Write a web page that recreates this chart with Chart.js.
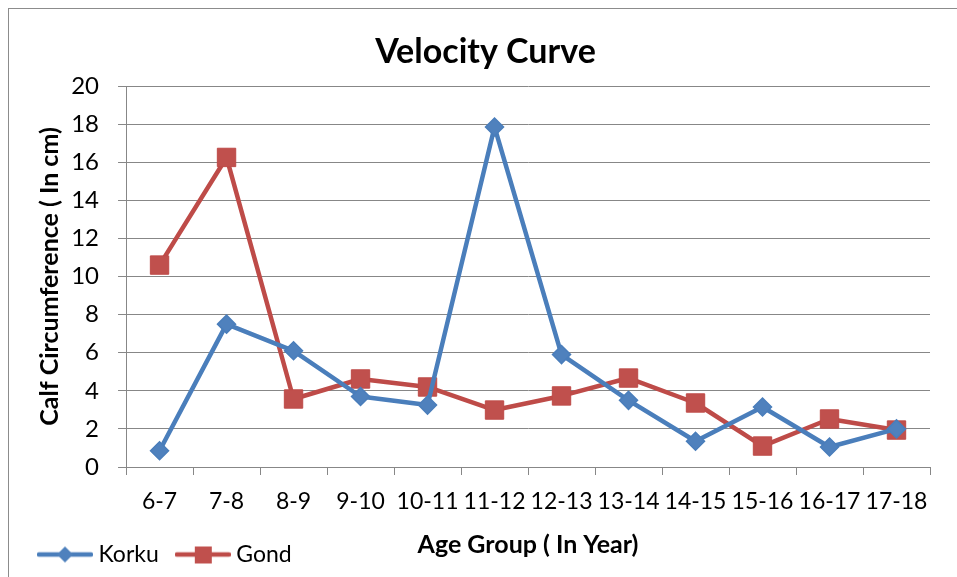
<!DOCTYPE html>
<html>
<head>
<meta charset="utf-8">
<script src="https://cdn.jsdelivr.net/npm/chart.js@4.4.1/dist/chart.umd.min.js"></script>
<style>
  body { margin: 0; background: #fff; overflow: hidden; }
  #wrap { position: relative; width: 957px; height: 577px; }
  #frame { position: absolute; left: 8px; top: 8px; width: 2000px; height: 2000px;
           border: 1px solid #8c8c8c; pointer-events: none; }
</style>
</head>
<body>
<div id="wrap">
  <canvas id="chart" width="957" height="577"></canvas>
  <div id="frame"></div>
</div>
<script>
// Age groups (x axis)
const ageGroups = ['6-7', '7-8', '8-9', '9-10', '10-11', '11-12', '12-13', '13-14', '14-15', '15-16', '16-17', '17-18'];

// Velocity values, calf circumference (cm)
const korku = [0.85, 7.5, 6.1, 3.7, 3.25, 17.85, 5.9, 3.5, 1.35, 3.15, 1.05, 2.0];
const gond  = [10.6, 16.25, 3.57, 4.62, 4.2, 2.99, 3.73, 4.67, 3.36, 1.1, 2.52, 1.94];

const blueLine = '#4A7EBB', blueFill = '#4F81BD';
const redLine = '#BE4B48', redFill = '#C0504D';
const gridColor = '#878787';

// small legend icons: line with marker in the middle
function legendIcon(lineColor, fillColor, shape) {
    const c = document.createElement('canvas');
    c.width = 56; c.height = 22;
    const g = c.getContext('2d');
    g.strokeStyle = lineColor;
    g.lineWidth = 4.5;
    g.lineCap = 'round';
    g.beginPath();
    g.moveTo(2, 11); g.lineTo(54, 11);
    g.stroke();
    g.fillStyle = fillColor;
    g.beginPath();
    if (shape === 'diamond') {
        g.moveTo(28, 3); g.lineTo(36, 11); g.lineTo(28, 19); g.lineTo(20, 11);
        g.closePath();
    } else {
        g.rect(20, 3, 17, 17);
    }
    g.fill();
    return c;
}
const icons = [legendIcon(blueLine, blueFill, 'diamond'), legendIcon(redLine, redFill, 'square')];

// the title in the original sits a bit right of the plot centre
const titleShift = {
    id: 'titleShift',
    afterLayout(chart) {
        chart.titleBlock.left += 10;
        chart.titleBlock.right += 10;
    }
};

const ctx = document.getElementById('chart').getContext('2d');
new Chart(ctx, {
    type: 'line',
    data: {
        labels: ageGroups,
        datasets: [
            {
                label: 'Korku',
                data: korku,
                borderColor: blueLine,
                backgroundColor: blueFill,
                borderWidth: 4.5,
                borderJoinStyle: 'round',
                pointStyle: 'rectRot',
                pointRadius: 9,
                pointBorderWidth: 1.5,
                pointBackgroundColor: blueFill,
                pointBorderColor: blueLine,
                tension: 0
            },
            {
                label: 'Gond',
                data: gond,
                borderColor: redLine,
                backgroundColor: redFill,
                borderWidth: 4.5,
                borderJoinStyle: 'round',
                pointStyle: 'rect',
                pointRadius: 13,
                pointBorderWidth: 1,
                pointBackgroundColor: redFill,
                pointBorderColor: redLine,
                tension: 0
            }
        ]
    },
    plugins: [titleShift],
    options: {
        responsive: false,
        animation: false,
        events: [],
        layout: { padding: { left: 21, right: 27, top: 20, bottom: 1 } },
        font: { family: 'Lato', size: 24 },
        color: '#000',
        plugins: {
            title: {
                display: true,
                text: 'Velocity Curve',
                color: '#000',
                font: { family: 'Lato', size: 34, weight: 'bold' },
                padding: { top: 11.6, bottom: 13.6 }
            },
            legend: {
                position: 'bottom',
                align: 'start',
                labels: {
                    usePointStyle: true,
                    pointStyleWidth: 44,
                    padding: 22,
                    color: '#000',
                    font: { family: 'Lato', size: 23 },
                    generateLabels(chart) {
                        const items = Chart.defaults.plugins.legend.labels.generateLabels(chart);
                        items.forEach((it, i) => { it.pointStyle = icons[i]; });
                        return items;
                    }
                }
            },
            tooltip: { enabled: false }
        },
        scales: {
            x: {
                offset: true,
                grid: { display: true, drawOnChartArea: false, drawTicks: true, tickLength: 8, offset: true, color: gridColor },
                border: { display: true, color: gridColor },
                ticks: { color: '#000', padding: 13.2, font: { family: 'Lato', size: 23 }, maxRotation: 0, autoSkip: false },
                title: {
                    display: true,
                    text: 'Age Group ( In Year)',
                    color: '#000',
                    font: { family: 'Lato', size: 25, weight: 'bold' },
                    padding: { top: 1, bottom: -39 }
                }
            },
            y: {
                min: 0,
                max: 20,
                grid: { color: gridColor, tickLength: 8 },
                border: { display: true, color: gridColor },
                ticks: { stepSize: 2, color: '#000', padding: 19, font: { family: 'Lato', size: 24 } },
                title: {
                    display: true,
                    text: 'Calf Circumference ( In cm)',
                    color: '#000',
                    font: { family: 'Lato', size: 25, weight: 'bold' },
                    padding: { top: 14, bottom: -12.8 }
                }
            }
        }
    }
});
</script>
</body>
</html>
